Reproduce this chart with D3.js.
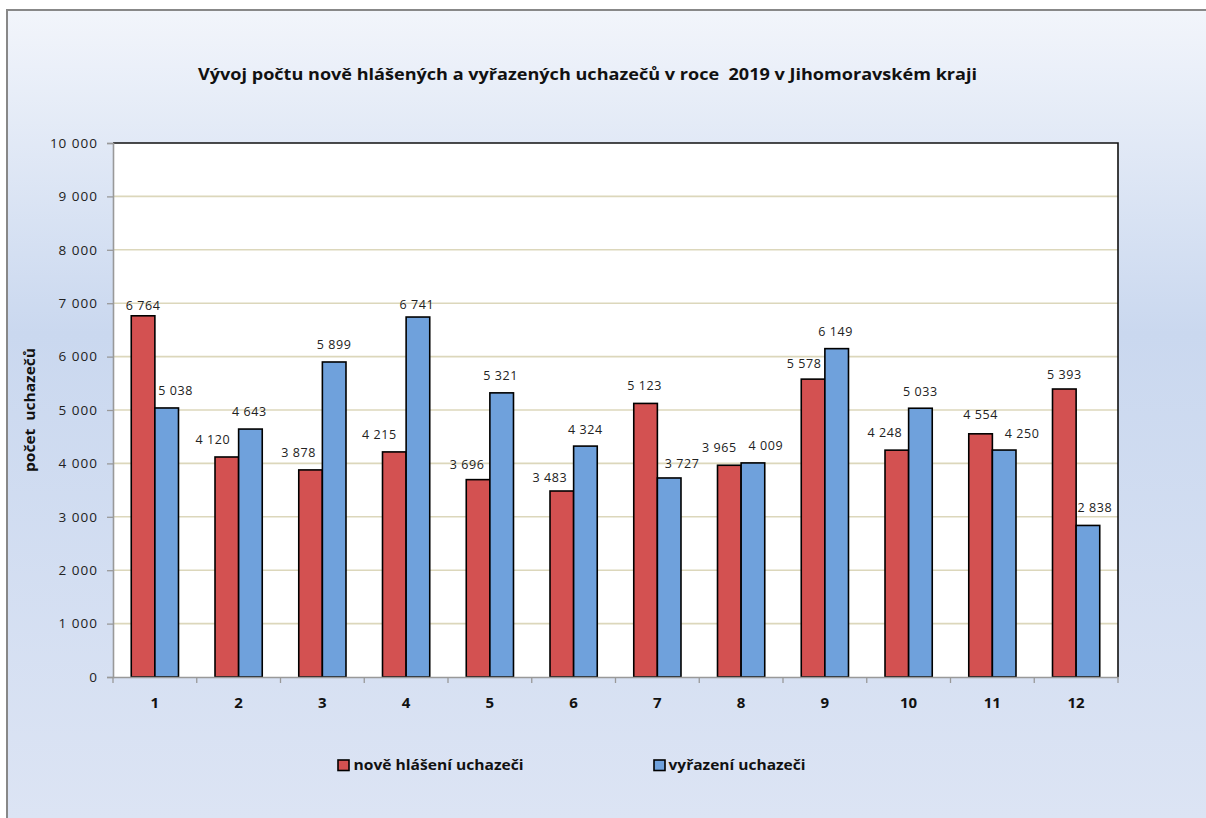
<!DOCTYPE html>
<html><head><meta charset="utf-8">
<script src="https://cdn.jsdelivr.net/npm/d3@7"></script>
<style>html,body{margin:0;padding:0;background:#fff;overflow:hidden}svg{display:block;overflow:hidden}</style>
</head><body>
<svg id="c" width="1206" height="818"></svg>
<script>
const months = ["1","2","3","4","5","6","7","8","9","10","11","12"];
const noveHlaseni = [6764,4120,3878,4215,3696,3483,5123,3965,5578,4248,4554,5393];
const vyrazeni = [5038,4643,5899,6741,5321,4324,3727,4009,6149,5033,4250,2838];
const seriesNames = ["nově hlášení uchazeči","vyřazení uchazeči"];
const yTicks = [0,1000,2000,3000,4000,5000,6000,7000,8000,9000,10000];
const titleText = "Vývoj počtu nově hlášených a vyřazených uchazečů v roce  2019 v Jihomoravském kraji";
const yTitle = "počet  uchazečů";
// label nudges (layout only): [dx, gap above bar top]
const nudgeRed = [[0,6],[-14,13],[-12,13],[-15,13],[-11,11],[-12,9],[-1,13],[-10,13],[-9,11],[-12,13],[0,15],[0,10]];
const nudgeBlue = [[9,13],[-1,13],[0,13],[-1,8],[-1,13],[0,12],[13,10],[13,13],[-1,13],[0,12],[18,12],[7,13]];

const svg = d3.select("#c");
const font = "'Open Sans', sans-serif";
const defs = svg.append("defs");
const g = defs.append("linearGradient").attr("id","bg").attr("x1",0).attr("y1",0).attr("x2",0).attr("y2",1);
g.append("stop").attr("offset","0%").attr("stop-color","#f2f5fb");
g.append("stop").attr("offset","40%").attr("stop-color","#cad8ef");
g.append("stop").attr("offset","100%").attr("stop-color","#dce4f4");
svg.append("rect").attr("x",0).attr("y",0).attr("width",1206).attr("height",818).attr("fill","#fff");
svg.append("rect").attr("x",7).attr("y",10).attr("width",1199).attr("height",808)
  .attr("fill","url(#bg)");
svg.append("path").attr("d","M7,818V10H1206").attr("fill","none").attr("stroke","#888").attr("stroke-width",2);

const L=113,R=1118,T=143,B=677;
const x = d3.scaleBand().domain(months).range([L,R]).padding(0);
const y = d3.scaleLinear().domain([0,10000]).range([B,T]);
const fmt = v => d3.format(",")(v).replace(/,/g," ");

svg.append("rect").attr("x",L).attr("y",T).attr("width",R-L).attr("height",B-T).attr("fill","#fff");
svg.append("g").selectAll("line").data(yTicks.filter(d=>d>0&&d<10000)).join("line")
  .attr("x1",L).attr("x2",R).attr("y1",d=>y(d)).attr("y2",d=>y(d))
  .attr("stroke","#dcd7bb").attr("stroke-width",1.6);
svg.append("path").attr("d",`M${L},${T}H${R}V${B}`).attr("fill","none").attr("stroke","#111").attr("stroke-width",1.6);

const bw = x.bandwidth()*0.282;
const cols = ["#d35151","#6fa1dc"];
const pts = [];
months.forEach((m,i)=>{
  const c = x(m)+x.bandwidth()/2;
  pts.push({k:0,v:noveHlaseni[i],x0:c-bw,n:nudgeRed[i]});
  pts.push({k:1,v:vyrazeni[i],x0:c,n:nudgeBlue[i]});
});
svg.append("g").selectAll("rect").data(pts).join("rect")
  .attr("x",d=>d.x0).attr("width",bw).attr("y",d=>y(d.v)).attr("height",d=>B-y(d.v))
  .attr("fill",d=>cols[d.k]).attr("stroke","#000").attr("stroke-width",1.6);
svg.append("g").selectAll("text").data(pts).join("text")
  .attr("x",d=>d.x0+bw/2+d.n[0]).attr("y",d=>y(d.v)-d.n[1])
  .attr("text-anchor","middle").attr("font-family",font).attr("font-size",12.5)
  .attr("letter-spacing",0.6).attr("fill","#222")
  .text(d=>fmt(d.v));

const ya = svg.append("g").attr("transform",`translate(${L},0)`)
  .call(d3.axisLeft(y).tickValues(yTicks).tickSize(6).tickFormat(fmt));
ya.select(".domain").attr("stroke","#999").attr("stroke-width",1.6);
ya.selectAll(".tick line").attr("stroke","#999").attr("stroke-width",1.3);
ya.selectAll("text").attr("font-family",font).attr("font-size",13.5).attr("letter-spacing",1)
  .attr("fill","#222").attr("x",-15);
const xa = svg.append("g").attr("transform",`translate(0,${B})`)
  .call(d3.axisBottom(x).tickSize(0));
xa.select(".domain").attr("stroke","#999").attr("stroke-width",1.6);
xa.selectAll("text").attr("font-family",font).attr("font-size",15).attr("font-weight","bold")
  .attr("fill","#111").attr("y",0).attr("dy",0).attr("transform","translate(0,31)");
const bounds = months.map(m=>x(m)).concat([R]);
svg.append("g").selectAll("line").data(bounds).join("line")
  .attr("x1",d=>d).attr("x2",d=>d).attr("y1",B).attr("y2",B+6).attr("stroke","#999").attr("stroke-width",1.3);

svg.append("text").attr("x",587.5).attr("y",80).attr("text-anchor","middle")
  .attr("font-family",font).attr("font-size",16).attr("font-weight","bold").attr("fill","#111")
  .attr("textLength",779).attr("lengthAdjust","spacingAndGlyphs")
  .style("white-space","pre").text(titleText);
svg.append("text").attr("transform","translate(35,410) rotate(-90)").attr("text-anchor","middle")
  .attr("font-family",font).attr("font-size",14).attr("font-weight","bold").attr("fill","#111")
  .attr("textLength",124).attr("lengthAdjust","spacingAndGlyphs")
  .style("white-space","pre").text(yTitle);

const legX=[338,654], legW=[170,137];
const lg = svg.append("g").selectAll("g").data(seriesNames).join("g").attr("transform",(d,i)=>`translate(${legX[i]},760)`);
lg.append("rect").attr("width",11).attr("height",10.5).attr("fill",(d,i)=>cols[i]).attr("stroke","#000").attr("stroke-width",1.6);
lg.append("text").attr("x",(d,i)=>i?14.5:15.5).attr("y",10).attr("font-family",font).attr("font-size",15)
  .attr("font-weight","bold").attr("fill","#111")
  .attr("textLength",(d,i)=>legW[i]).attr("lengthAdjust","spacingAndGlyphs").text(d=>d);
</script>
</body></html>
